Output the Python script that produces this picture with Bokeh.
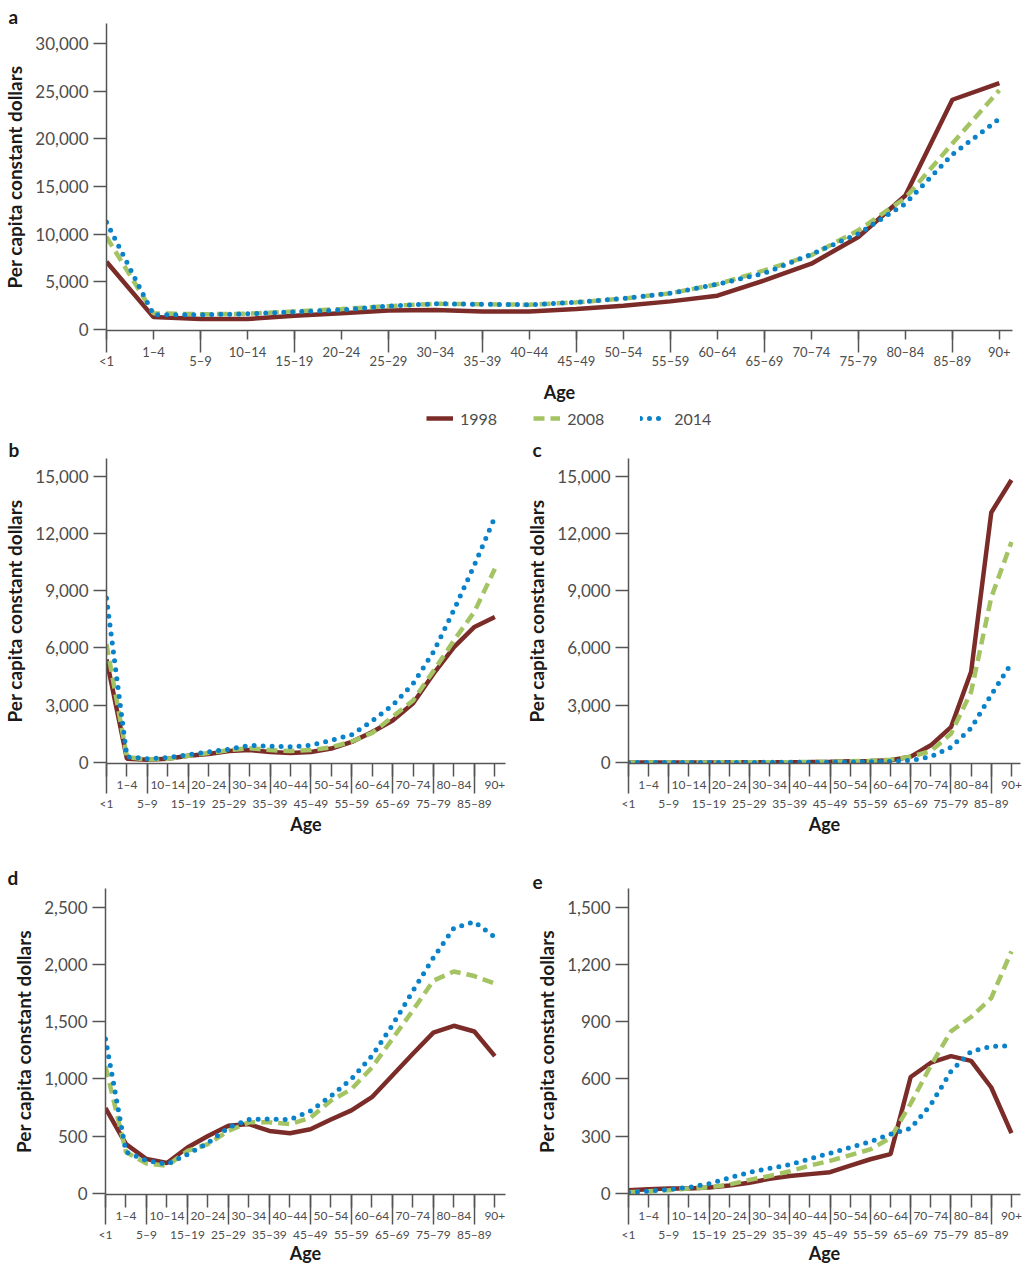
from bokeh.plotting import figure
from bokeh.models import Range1d, FixedTicker, NumeralTickFormatter, Legend, LegendItem
from bokeh.layouts import column, row
from bokeh.embed import file_html
from bokeh.resources import INLINE

ages = ["<1", "1–4", "5–9", "10–14", "15–19", "20–24", "25–29", "30–34", "35–39", "40–44",
        "45–49", "50–54", "55–59", "60–64", "65–69", "70–74", "75–79", "80–84", "85–89", "90+"]
years = ["1998", "2008", "2014"]

a_1998 = [7100, 1300, 1100, 1100, 1450, 1700, 2000, 2050, 1900, 1900, 2150, 2500, 2950, 3550, 5150, 6900, 9700, 14050, 24100, 25850]
a_2008 = [9700, 1700, 1600, 1650, 1900, 2150, 2450, 2700, 2650, 2600, 2850, 3250, 3800, 4750, 6200, 7800, 10400, 13800, 19500, 25100]
a_2014 = [11250, 1550, 1550, 1650, 1850, 2050, 2450, 2700, 2650, 2600, 2850, 3250, 3800, 4750, 5900, 7900, 10050, 13200, 18350, 22100]

b_1998 = [5400, 200, 150, 200, 350, 450, 600, 650, 550, 500, 550, 730, 1080, 1600, 2200, 3100, 4650, 6050, 7100, 7620]
b_2008 = [6200, 300, 150, 200, 350, 500, 650, 750, 650, 600, 650, 800, 1100, 1550, 2400, 3250, 4800, 6400, 7900, 10150]
b_2014 = [8600, 300, 200, 250, 400, 550, 700, 900, 850, 820, 900, 1170, 1450, 2180, 3000, 4130, 5800, 8000, 10350, 12850]

c_1998 = [0, 0, 0, 5, 5, 10, 10, 15, 20, 25, 40, 60, 80, 120, 300, 900, 1850, 4750, 13100, 14800]
c_2008 = [0, 0, 0, 5, 5, 10, 10, 15, 20, 25, 40, 60, 90, 150, 300, 600, 1500, 3700, 8650, 11550]
c_2014 = [0, 0, 0, 0, 5, 5, 5, 10, 10, 15, 20, 30, 40, 60, 110, 300, 800, 1800, 3550, 5200]

d_1998 = [745, 430, 300, 265, 400, 500, 590, 605, 545, 525, 560, 645, 725, 840, 1030, 1220, 1405, 1465, 1415, 1200]
d_2008 = [1110, 360, 260, 240, 370, 430, 545, 620, 620, 605, 660, 810, 910, 1100, 1350, 1600, 1860, 1940, 1900, 1835]
d_2014 = [1350, 360, 285, 255, 340, 440, 575, 645, 650, 645, 720, 850, 1000, 1200, 1470, 1770, 2060, 2320, 2375, 2240]

e_1998 = [15, 20, 25, 25, 30, 40, 55, 75, 90, 100, 110, 145, 178, 205, 610, 685, 720, 695, 555, 315]
e_2008 = [5, 10, 15, 25, 30, 45, 70, 90, 115, 145, 170, 200, 230, 290, 470, 670, 850, 925, 1025, 1270]
e_2014 = [5, 10, 20, 30, 50, 80, 110, 130, 150, 180, 210, 240, 270, 310, 340, 465, 640, 745, 770, 775]

ticks_a = [0, 5000, 10000, 15000, 20000, 25000, 30000]
ticks_bc = [0, 3000, 6000, 9000, 12000, 15000]
ticks_d = [0, 500, 1000, 1500, 2000, 2500]
ticks_e = [0, 300, 600, 900, 1200, 1500]

RED = "#7b2c28"
GREEN = "#a4c463"
BLUE = "#0a82c9"
AXIS = "#555555"
TXT = "#4d4d4d"
FONT = "Lato"


def style_lines(p, idx, s98, s08, s14):
    r1 = p.line(idx, s98, line_color=RED, line_width=4.5)
    r2 = p.line(idx, s08, line_color=GREEN, line_width=4.5, line_dash="11 6")
    r3 = p.line(idx, s14, line_color=BLUE, line_width=5, line_dash="0 9", line_cap="round")
    return r1, r2, r3


def make_panel(letter, s98, s08, s14, yticks, y_bot, y_top, x_end, W, H, bl, br, bt, bb,
               xfs, lh, short, long_, std, age_std, let_off, let_std):
    idx = list(range(len(ages)))
    p = figure(width=W, height=H, x_range=Range1d(0, x_end), y_range=Range1d(y_bot, y_top),
               output_backend="svg", toolbar_location=None,
               min_border_left=bl, min_border_right=br, min_border_top=bt, min_border_bottom=bb)
    p.grid.visible = False
    p.outline_line_color = None
    p.background_fill_color = "white"

    ya = p.yaxis[0]
    ya.ticker = FixedTicker(ticks=yticks)
    ya.formatter = NumeralTickFormatter(format="0,0")
    ya.major_tick_out = 13
    ya.major_tick_in = 0
    ya.axis_line_color = AXIS
    ya.axis_line_width = 1.5
    ya.major_tick_line_color = AXIS
    ya.major_tick_line_width = 1.5
    ya.major_label_text_font = FONT
    ya.major_label_text_font_size = "17px"
    ya.major_label_text_color = TXT
    ya.major_label_standoff = 5
    ya.axis_label = "Per capita constant dollars"
    ya.axis_label_text_font = FONT
    ya.axis_label_text_font_style = "bold"
    ya.axis_label_text_font_size = "19px"
    ya.axis_label_text_color = "#1a1a1a"
    ya.axis_label_standoff = 6

    even = [i for i in idx if i % 2 == 0]
    labels = {i: (" \n" + ages[i]) if i % 2 == 0 else (ages[i] + "\n ") for i in idx}

    xa = p.xaxis[0]
    xa.ticker = FixedTicker(ticks=idx, minor_ticks=even)
    xa.major_label_overrides = labels
    xa.major_tick_out = short
    xa.major_tick_in = 0
    xa.minor_tick_out = long_
    xa.minor_tick_in = 0
    xa.axis_line_color = AXIS
    xa.axis_line_width = 1.5
    xa.major_tick_line_color = AXIS
    xa.major_tick_line_width = 1.5
    xa.minor_tick_line_color = AXIS
    xa.minor_tick_line_width = 1.5
    xa.major_label_standoff = std
    xa.major_label_text_font = FONT
    xa.major_label_text_font_size = xfs
    xa.major_label_text_color = TXT
    xa.major_label_text_line_height = lh
    xa.axis_label = "Age"
    xa.axis_label_standoff = age_std
    xa.axis_label_text_font = FONT
    xa.axis_label_text_font_style = "bold"
    xa.axis_label_text_font_size = "18px"
    xa.axis_label_text_color = "#1a1a1a"

    rs = style_lines(p, idx, s98, s08, s14)

    p.title.text = letter
    p.title.align = "left"
    p.title.offset = let_off
    p.title.standoff = let_std
    p.title.text_font = FONT
    p.title.text_font_style = "bold"
    p.title.text_font_size = "19px"
    p.title.text_color = "#1a1a1a"
    p.title.text_line_height = 1.0
    return p, rs


# panel a: zero at y=329 px, 30,000 at 43 px, frame top 23
pa, _ = make_panel("a", a_1998, a_2008, a_2014, ticks_a, -105, 32098, 19.28,
                   1022, 408, 105, 10, 23, 78, "13px", 0.62, 9, 22, -9, 9, -98, -9)

# legend row (its lines lie outside its own view; only the legend keys show)
pl = figure(width=1022, height=22, x_axis_type=None, y_axis_type=None, title=None,
            x_range=Range1d(-30, -29), y_range=Range1d(0, 1),
            output_backend="svg", toolbar_location=None,
            min_border_left=0, min_border_right=0, min_border_top=0, min_border_bottom=0)
pl.outline_line_color = None
pl.grid.visible = False
lr = style_lines(pl, list(range(len(ages))), a_1998, a_2008, a_2014)
legend = Legend(items=[LegendItem(label=years[k], renderers=[lr[k]]) for k in range(3)],
                orientation="horizontal", location=(320, 2), glyph_width=27, glyph_height=20,
                label_standoff=7, spacing=36, padding=0, margin=0, border_line_color=None,
                background_fill_alpha=0, label_text_font=FONT, label_text_font_size="16px",
                label_text_color=TXT, label_height=20)
pl.add_layout(legend)

pb, _ = make_panel("b", b_1998, b_2008, b_2014, ticks_bc, -52, 15926, 19.52,
                   518, 416, 105, 13, 28, 83, "12px", 1.27, 13, 30, -17, -1, -98, -4)
pc, _ = make_panel("c", c_1998, c_2008, c_2014, ticks_bc, -52, 15926, 19.45,
                   504, 416, 110, 2, 28, 83, "12px", 1.27, 13, 30, -17, -1, -96, -4)
pd, _ = make_panel("d", d_1998, d_2008, d_2014, ticks_d, -11, 2666, 19.52,
                   518, 422, 105, 13, 42, 74, "12px", 1.27, 13, 30, -17, -3, -98, 0)
pe, _ = make_panel("e", e_1998, e_2008, e_2014, ticks_e, -7, 1600, 19.45,
                   504, 422, 110, 2, 42, 74, "12px", 1.27, 13, 30, -17, -3, -96, 0)

layout = column(pa, pl, row(pb, pc), row(pd, pe))
open("out.html", "w").write(file_html(layout, INLINE))
